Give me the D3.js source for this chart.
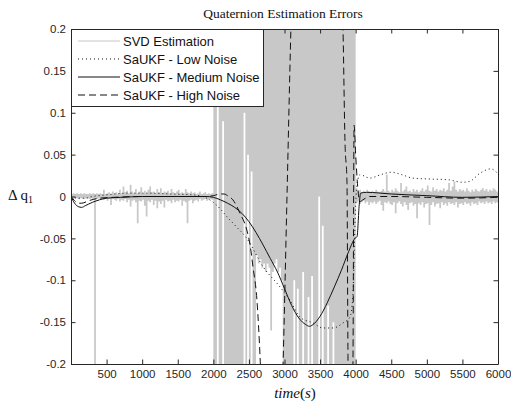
<!DOCTYPE html>
<html>
<head>
<meta charset="utf-8">
<script src="https://cdn.jsdelivr.net/npm/d3@7"></script>
<style>
  body { margin: 0; background: #fff; }
  svg { display: block; }
</style>
</head>
<body>
<div id="chart"></div>
<script>
// SVD estimate, one max / min pair per 25 s bin (values beyond +-0.2 are clipped)
const svdStep = 25;
const svdHi = [
  .003,.004,.003,.004,.003,.004,.003,.004,.003,.003, .004,.003,.004,.003,.004,.003,.004,.003,.008,.003,
  .004,.005,.003,.006,.004,.005,.003,.008,.004,.012, .005,.007,.004,.014,.006,.004,.009,.004,.006,.011,
  .004,.007,.004,.008,.012,.005,.006,.004,.009,.005, .010,.004,.006,.005,.007,.004,.009,.005,.004,.006,
  .008,.004,.005,.004,.009,.005,.004,.006,.004,.005, .003,.004,.006,.003,.004,.005,.003,.004,.003,.004,
  .3,.3,.3,.3,.3,.3,.3,.3,.3,.3, .3,.3,.3,.3,.3,.3,.3,.3,.3,.3,
  .3,.3,.3,.3,.3,.3,.3,.3,.3,.3, .3,.3,.3,.3,.3,.3,.3,.3,.3,.3,
  .3,.3,.3,.3,.3,.3,.3,.3,.3,.3, .3,.3,.3,.3,.3,.3,.3,.3,.3,.3,
  .3,.3,.3,.3,.3,.3,.3,.3,.3,.3, .3,.3,.3,.3,.3,.3,.3,.3,.3,.3,
  .010,.006,.008,.005,.007,.005,.008,.006,.005,.007, .005,.008,.006,.005,.007,.009,.006,.026,.007,.005,
  .008,.006,.010,.007,.005,.016,.006,.008,.012,.006, .007,.005,.009,.006,.008,.005,.007,.010,.006,.008,
  .013,.007,.006,.011,.007,.009,.006,.008,.007,.010, .006,.008,.016,.007,.012,.018,.008,.006,.009,.007,
  .008,.006,.010,.007,.005,.008,.006,.009,.007,.006, .008,.010,.007,.009,.006,.008,.007,.010,.008,.006
];
const svdLo = [
  -.002,-.003,-.002,-.002,-.003,-.002,-.002,-.003,-.002,-.002, -.003,-.002,-.003,-.3,-.003,-.002,-.003,-.002,-.004,-.003,
  -.005,-.003,-.010,-.003,-.004,-.005,-.003,-.006,-.004,-.005, -.003,-.007,-.004,-.012,-.005,-.004,-.007,-.032,-.005,-.006,
  -.004,-.011,-.024,-.005,-.007,-.004,-.010,-.005,-.014,-.006, -.009,-.005,-.013,-.004,-.006,-.005,-.008,-.004,-.007,-.005,
  -.006,-.004,-.011,-.005,-.007,-.032,-.005,-.004,-.008,-.005, -.004,-.006,-.003,-.005,-.004,-.003,-.005,-.004,-.003,-.004,
  -.3,-.3,.11,-.3,-.3,.09,-.3,-.3,-.3,-.3, -.3,-.3,-.3,-.3,-.3,-.3,-.3,.1,-.3,.05,
  -.3,.03,-.3,-.3,-.07,-.08,-.075,-.085,-.08,-.09, -.08,-.085,-.16,-.09,-.08,-.075,-.09,-.085,-.1,-.3,
  -.3,-.3,-.3,-.3,-.3,-.1,-.3,-.11,-.3,-.3, -.09,-.3,-.3,-.12,-.3,-.095,-.3,-.3,-.3,0,
  -.3,-.035,-.3,-.3,-.13,-.3,-.3,-.15,-.3,-.3, -.3,-.3,-.3,-.3,-.3,-.3,-.3,-.3,-.3,-.3,
  -.008,-.006,-.009,-.007,-.005,-.008,-.006,-.010,-.007,-.008, -.006,-.009,-.007,-.005,-.010,-.017,-.007,-.008,-.006,-.009,
  -.010,-.007,-.020,-.008,-.006,-.009,-.012,-.007,-.010,-.016, -.008,-.007,-.011,-.009,-.026,-.008,-.010,-.007,-.013,-.009,
  -.008,-.034,-.010,-.007,-.012,-.009,-.008,-.014,-.007,-.010, -.008,-.011,-.007,-.009,-.008,-.010,-.007,-.013,-.009,-.008,
  -.010,-.007,-.009,-.008,-.011,-.007,-.009,-.008,-.010,-.006, -.008,-.007,-.009,-.006,-.008,-.007,-.009,-.006,-.008,-.007
];

// SaUKF - Low Noise
const lowT = [0, 100, 200, 300, 500, 800, 1100, 1400, 1700, 1850, 1950, 2000, 2100, 2190, 2300, 2470, 2700, 2937, 3077, 3218, 3400, 3541, 3682, 3822, 3920, 3960, 3985, 4005, 4030, 4060, 4200, 4350, 4500, 4650, 4800, 5000, 5300, 5500, 5600, 5750, 5900, 6000];
const lowV = [0, -0.002, -0.002, 0, 0.002, 0.004, 0.004, 0.003, 0.002, 0, -0.004, -0.007, -0.015, -0.024, -0.034, -0.05, -0.084, -0.108, -0.124, -0.144, -0.151, -0.157, -0.157, -0.151, -0.144, -0.12, -0.05, 0, 0.02, 0.026, 0.022, 0.026, 0.029, 0.026, 0.022, 0.021, 0.02, 0.017, 0.018, 0.028, 0.033, 0.027];

// SaUKF - Medium Noise
const medT = [0, 50, 100, 150, 200, 300, 400, 500, 700, 1000, 1500, 1900, 2000, 2100, 2200, 2300, 2400, 2500, 2600, 2700, 2800, 2900, 3000, 3100, 3200, 3300, 3350, 3400, 3500, 3600, 3700, 3800, 3900, 3990, 4019, 4050, 4070, 4150, 4500, 5000, 5500, 6000];
const medV = [0, -0.008, -0.012, -0.013, -0.011, -0.007, -0.004, -0.002, -0.001, 0, 0, 0, -0.001, -0.004, -0.008, -0.013, -0.02, -0.03, -0.043, -0.058, -0.074, -0.09, -0.11, -0.13, -0.145, -0.153, -0.155, -0.153, -0.143, -0.127, -0.108, -0.088, -0.066, -0.05, -0.048, -0.01, 0.004, 0.005, 0.003, 0.001, -0.001, 0];

// SaUKF - High Noise
const highT = [0, 50, 100, 150, 250, 400, 600, 1000, 1900, 2000, 2100, 2150, 2200, 2275, 2375, 2470, 2520, 2557, 2613, 2656, 2690, 2960, 2980, 3035, 3090, 3110, 3800, 3822, 3850, 3878, 3892, 3905, 3950, 3962, 3978, 4000, 4030, 4060, 4100, 4200, 4500, 5000, 5500, 6000];
const highV = [0, -0.005, -0.008, -0.008, -0.005, -0.002, -0.001, 0, 0, 0.001, 0.003, 0.003, 0.001, -0.004, -0.02, -0.04, -0.06, -0.084, -0.124, -0.19, -0.26, -0.26, -0.2, 0, 0.2, 0.26, 0.26, 0.2, 0.065, 0.017, -0.19, -0.26, -0.26, -0.2, 0.085, 0.05, 0.01, -0.006, -0.004, 0, 0, -0.001, -0.002, -0.001];

const xTicks = [500, 1000, 1500, 2000, 2500, 3000, 3500, 4000, 4500, 5000, 5500, 6000];
const yTicks = [-0.2, -0.15, -0.1, -0.05, 0, 0.05, 0.1, 0.15, 0.2];
const yTickLabels = ["-0.2", "-0.15", "-0.1", "-0.05", "0", "0.05", "0.1", "0.15", "0.2"];
const legendNames = ["SVD Estimation", "SaUKF - Low Noise", "SaUKF - Medium Noise", "SaUKF - High Noise"];

const width = 511;
const height = 404;
const margin = { top: 29, right: 13, bottom: 40, left: 71 };

const x = d3.scaleLinear().domain([0, 6000]).range([margin.left, width - margin.right]);
const y = d3.scaleLinear().domain([-0.2, 0.2]).range([height - margin.bottom, margin.top]);

const svg = d3.select("#chart").append("svg")
  .attr("width", width)
  .attr("height", height)
  .attr("viewBox", `0 0 ${width} ${height}`);

svg.append("rect").attr("width", width).attr("height", height).attr("fill", "#fff");

svg.append("clipPath").attr("id", "plot-clip")
  .append("rect")
  .attr("x", margin.left).attr("y", margin.top)
  .attr("width", width - margin.left - margin.right)
  .attr("height", height - margin.top - margin.bottom);

const plot = svg.append("g").attr("clip-path", "url(#plot-clip)");

// svd: min..max envelope of each bin, drawn as steps
const svdBins = svdHi.map((hi, i) => ({ t: i * svdStep, hi, lo: svdLo[i] }));
svdBins.push({ t: svdBins.length * svdStep, hi: svdHi[svdHi.length - 1], lo: svdLo[svdLo.length - 1] });

const svdArea = d3.area()
  .x(d => x(d.t))
  .y0(d => y(d.lo))
  .y1(d => y(d.hi))
  .curve(d3.curveStepAfter);

plot.append("path")
  .attr("d", svdArea(svdBins))
  .attr("fill", "#c8c8c8")
  .attr("stroke", "none");

const smooth = d3.line().x(d => x(d[0])).y(d => y(d[1])).curve(d3.curveMonotoneX);

const series = [
  { t: lowT, v: lowV, dash: "1,3" },
  { t: medT, v: medV, dash: null },
  { t: highT, v: highV, dash: "7,4" }
];

series.forEach(s => {
  plot.append("path")
    .attr("d", smooth(s.t.map((t, i) => [t, s.v[i]])))
    .attr("fill", "none")
    .attr("stroke", "#111")
    .attr("stroke-width", 1)
    .attr("stroke-dasharray", s.dash);
});

// axes, ticks on all four sides pointing inward
const axisColor = "#262626";
const styleAxis = g => {
  g.selectAll("path, line").attr("stroke", axisColor);
  g.selectAll("text").attr("fill", axisColor)
    .attr("font-family", "'Liberation Sans', Arial, sans-serif").attr("font-size", 11.5);
};

svg.append("g")
  .attr("transform", `translate(0,${height - margin.bottom})`)
  .call(d3.axisBottom(x).tickValues(xTicks).tickSizeInner(-4.5).tickSizeOuter(0).tickPadding(6)
    .tickFormat(d3.format("d")))
  .call(styleAxis);

svg.append("g")
  .attr("transform", `translate(0,${margin.top})`)
  .call(d3.axisTop(x).tickValues(xTicks).tickSizeInner(-4.5).tickSizeOuter(0).tickFormat(""))
  .call(styleAxis);

svg.append("g")
  .attr("transform", `translate(${margin.left},0)`)
  .call(d3.axisLeft(y).tickValues(yTicks).tickSizeInner(-4.5).tickSizeOuter(0).tickPadding(5)
    .tickFormat((d, i) => yTickLabels[i]))
  .call(styleAxis);

svg.append("g")
  .attr("transform", `translate(${width - margin.right},0)`)
  .call(d3.axisRight(y).tickValues(yTicks).tickSizeInner(-4.5).tickSizeOuter(0).tickFormat(""))
  .call(styleAxis);

// title and axis labels
svg.append("text")
  .attr("x", 283).attr("y", 18)
  .attr("text-anchor", "middle")
  .attr("font-family", "'Liberation Serif', 'Times New Roman', serif")
  .attr("font-size", 13.5)
  .attr("fill", "#111")
  .text("Quaternion Estimation Errors");

const xLabel = svg.append("text")
  .attr("x", 295).attr("y", 398)
  .attr("text-anchor", "middle")
  .attr("font-family", "'Liberation Serif', 'Times New Roman', serif")
  .attr("font-size", 15)
  .attr("fill", "#111");
xLabel.append("tspan").attr("font-style", "italic").text("time");
xLabel.append("tspan").text("(");
xLabel.append("tspan").attr("font-style", "italic").text("s");
xLabel.append("tspan").text(")");

const yLabel = svg.append("text")
  .attr("x", 8).attr("y", 200)
  .attr("font-family", "'Liberation Serif', 'Times New Roman', serif")
  .attr("font-size", 15)
  .attr("fill", "#111");
yLabel.append("tspan").text("\u0394 q");
yLabel.append("tspan").attr("font-size", 10).attr("dy", 3).text("1");

// legend
const legend = svg.append("g");
legend.append("rect")
  .attr("x", margin.left + 0.5).attr("y", margin.top + 0.5)
  .attr("width", 192).attr("height", 77)
  .attr("fill", "#fff").attr("stroke", axisColor);

const legendStyles = [
  { stroke: "#c8c8c8", dash: null },
  { stroke: "#111", dash: "1,3" },
  { stroke: "#111", dash: null },
  { stroke: "#111", dash: "7,4" }
];

legendNames.forEach((name, i) => {
  const cy = 41 + i * 18;
  legend.append("line")
    .attr("x1", 78).attr("x2", 120).attr("y1", cy).attr("y2", cy)
    .attr("stroke", legendStyles[i].stroke)
    .attr("stroke-width", 1)
    .attr("stroke-dasharray", legendStyles[i].dash);
  legend.append("text")
    .attr("x", 123).attr("y", cy + 4.5)
    .attr("font-family", "'Liberation Sans', Arial, sans-serif")
    .attr("font-size", 13)
    .attr("fill", "#111")
    .text(name);
});
</script>
</body>
</html>
